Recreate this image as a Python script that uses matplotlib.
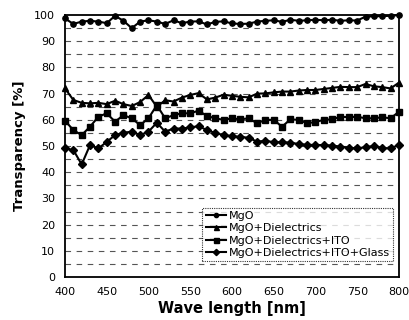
import numpy as np
import matplotlib
matplotlib.use("Agg")
import matplotlib.pyplot as plt

wavelength = list(range(400, 801, 10))

mgo = [98.7, 96.6, 97.5, 97.8, 97.5, 96.9, 99.7, 97.8, 95.0, 97.5,
       98.0, 97.5, 96.6, 98.0, 96.9, 97.5, 97.6, 96.4, 97.4, 97.6,
       96.8, 96.6, 96.7, 97.5, 97.8, 98.0, 97.4, 98.2, 97.8, 98.0,
       98.2, 98.0, 98.2, 97.8, 98.0, 97.9, 99.4, 99.5, 99.6, 99.7, 100.0]

mgo_diel = [72.0, 67.6, 66.5, 66.3, 66.5, 66.0, 67.3, 66.0, 65.3, 66.8,
            69.5, 65.0, 67.5, 67.0, 68.5, 69.5, 70.2, 67.8, 68.5, 69.6,
            69.2, 68.8, 68.6, 70.0, 70.1, 70.5, 70.8, 70.8, 71.2, 71.4,
            71.4, 71.8, 72.2, 72.6, 72.5, 72.5, 73.7, 72.8, 72.5, 72.0, 74.2]

mgo_diel_ito = [59.7, 56.1, 54.2, 57.4, 61.2, 62.5, 59.3, 61.8, 60.6, 58.0,
                60.6, 65.6, 60.6, 61.8, 62.5, 62.5, 63.5, 61.5, 60.6, 60.0,
                60.6, 60.2, 60.6, 58.7, 60.0, 60.0, 57.4, 60.2, 60.0, 58.7,
                59.2, 60.0, 60.2, 61.2, 61.0, 61.2, 60.6, 60.6, 61.0, 60.6, 63.1]

mgo_diel_ito_glass = [49.1, 48.5, 43.0, 50.4, 49.1, 51.6, 54.2, 55.1, 55.5, 54.2,
                      55.5, 58.9, 55.5, 56.7, 56.7, 57.1, 57.6, 56.1, 55.0, 54.2,
                      53.8, 53.5, 53.2, 51.7, 52.0, 51.5, 51.5, 51.3, 50.8, 50.5,
                      50.4, 50.4, 50.2, 49.8, 49.4, 49.1, 49.6, 50.0, 49.2, 49.2, 50.4]

labels = ["MgO", "MgO+Dielectrics", "MgO+Dielectrics+ITO", "MgO+Dielectrics+ITO+Glass"]
markers = ["o", "^", "s", "D"]
sizes = [3.8, 4.5, 4.5, 4]
series = [mgo, mgo_diel, mgo_diel_ito, mgo_diel_ito_glass]

x_ticks = list(range(400, 801, 50))
y_ticks = list(range(0, 101, 10))

plt.rcParams['font.family'] = ['DejaVu Sans']

fig = plt.figure(figsize=(4.1, 3.2), dpi=100)
ax = fig.add_axes([0.1585, 0.134, 0.8145, 0.819])

for yv in range(5, 100, 5):
    ax.axhline(yv, color="#555555", lw=0.8, ls=(0, (5, 5)), zorder=1)

for vals, lab, m, s in zip(series, labels, markers, sizes):
    ax.plot(wavelength, vals, color="black", lw=1.5, marker=m, ms=s,
            label=lab, clip_on=False, zorder=3)

ax.set_xlim(400, 800)
ax.set_ylim(0, 100)
ax.set_xticks(x_ticks)
ax.set_yticks(y_ticks)
ax.tick_params(axis="both", length=0, labelsize=8, pad=7)
for sp in ax.spines.values():
    sp.set_linewidth(1.3)

ax.set_xlabel("Wave length [nm]", fontsize=10.5, fontweight="bold", labelpad=3)
ax.set_ylabel("Transparency [%]", fontsize=9.5, fontweight="bold", labelpad=6)

leg = ax.legend(loc="lower right", fontsize=8, frameon=True, fancybox=False,
                handlelength=1.8, borderpad=0.3, labelspacing=0.2,
                handletextpad=0.3, bbox_to_anchor=(1.0, 0.04), markerscale=0.8)
leg.get_frame().set_edgecolor("black")
leg.get_frame().set_linewidth(0.8)
leg.get_frame().set_linestyle((0, (1, 1)))

fig.savefig("out.png", dpi=100)
